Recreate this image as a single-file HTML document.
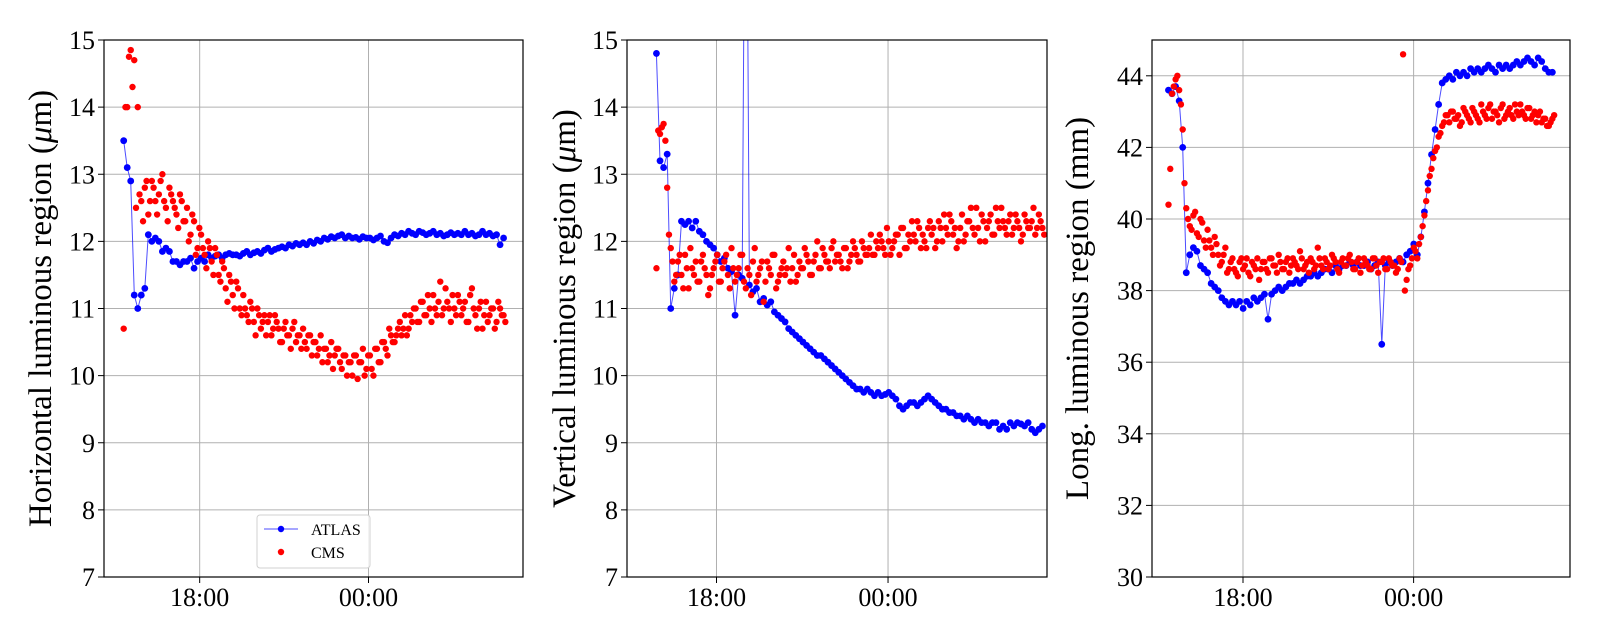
<!DOCTYPE html>
<html><head><meta charset="utf-8"><style>
html,body{margin:0;padding:0;background:#fff}
svg{display:block;font-family:"Liberation Serif","DejaVu Serif",serif}
</style></head><body>
<svg id="chart" width="1600" height="640" viewBox="0 0 1600 640"></svg>
<script>
// ---- data (hours relative to 18:00, grid step 0.125 h) ----
const STEP = 0.125;
const startH = -2.7, startV = -2.1, startL = -2.62;
const xTickLabels = ["18:00", "00:00"];
const xTickHours = [0, 6];
const yTicksHV = [7, 8, 9, 10, 11, 12, 13, 14, 15];
const yTicksL = [30, 32, 34, 36, 38, 40, 42, 44];
const seriesNames = ["ATLAS", "CMS"];

const atlasH = [13.5,13.1,12.9, 11.2,11.0,11.2,11.3, 12.1,12.0,12.05,12.0,11.85,
11.9,11.85,11.7,11.7,11.65,11.7,11.7,11.75,11.6,11.7,
11.75,11.7,11.8,11.75,11.78,11.8,11.75,11.8,11.82,11.8,11.8,11.78,11.82,11.85,11.8,11.83,11.85,11.82,11.87,11.9,11.85,11.88,11.9,11.92,11.9,11.95,11.93,11.97,11.95,11.98,
11.95,12.0,11.97,12.02,12.0,12.05,12.03,12.07,12.05,12.08,12.1,12.05,12.08,12.05,12.06,12.03,12.07,12.05,
12.05,12.02,12.05,12.08,12.0,11.98,12.05,12.1,12.08,12.12,12.1,12.15,12.12,12.1,12.15,12.13,12.1,12.12,12.15,12.1,12.12,12.08,12.1,12.13,12.1,12.12,12.1,12.15,12.1,12.12,12.08,12.1,12.15,12.1,12.12,12.08,12.1,11.95,12.05];
const cmsH = [10.7,14.0,14.85,14.7,14.0,12.6,12.8,12.4,12.9,12.6,12.7,13.0,12.5,12.8,12.6,12.4,12.7,12.3,12.5,12.1,
12.3,11.9,12.1,11.8,12.0,11.7,11.9,11.5,11.7,11.3,11.5,11.2,11.4,11.0,11.2,10.9,11.1,10.8,11.0,10.7,
10.9,10.8,10.6,10.9,10.7,10.5,10.8,10.6,10.7,10.5,10.6,10.7,10.4,10.6,10.5,10.3,10.6,10.4,10.2,10.5,
10.3,10.4,10.1,10.3,10.2,10.0,10.3,10.2,10.4,10.1,10.3,10.0,10.4,10.2,10.5,10.3,10.6,10.5,10.7,10.6,
10.9,10.7,10.8,11.0,10.8,11.1,10.9,11.0,11.2,10.9,11.4,11.0,11.1,10.8,11.0,11.2,10.9,11.1,10.8,11.3,
10.9,11.0,10.7,11.1,10.9,11.0,10.8,11.0,10.9];
const cmsH2 = [14.0,14.75,14.3,12.5,12.7,12.3,12.9,12.6,12.8,12.4,12.9,12.6,12.3,12.7,12.5,12.2,12.6,12.3,12.0,12.4,
11.8,12.2,11.9,11.6,11.9,11.5,11.8,11.4,11.6,11.1,11.4,11.0,11.3,10.9,11.0,10.8,11.0,10.6,10.9,10.8,
10.6,10.9,10.7,10.8,10.5,10.7,10.6,10.4,10.8,10.6,10.4,10.5,10.6,10.3,10.5,10.4,10.2,10.4,10.3,10.1,
10.4,10.2,10.3,10.0,10.2,10.3,9.95,10.2,10.0,10.3,10.1,10.4,10.2,10.5,10.4,10.7,10.5,10.6,10.8,10.7,
10.6,10.9,11.0,10.8,11.1,10.9,11.2,10.8,11.0,11.1,10.9,11.3,11.0,11.2,10.9,11.1,11.0,10.8,11.2,11.0,
10.7,11.1,10.9,10.8,11.0,10.7,11.1,10.9,10.8];

const atlasV = [14.8,13.2,13.1,13.3,11.0,11.3,11.5,12.3,12.25,12.3,12.2,12.3,12.15,12.1,12.0,11.95,11.9,11.8,11.7,11.75,
11.6,11.55,10.9,11.5,11.45,20,11.35,11.25,11.3,11.1,11.15,11.05,11.1,10.95,10.9,10.85,10.8,10.7,10.65,10.6,
10.55,10.5,10.45,10.4,10.35,10.3,10.3,10.25,10.2,10.15,10.1,10.05,10.0,9.95,9.9,9.85,9.8,9.8,9.75,9.8,
9.75,9.7,9.75,9.7,9.72,9.75,9.7,9.65,9.55,9.5,9.55,9.6,9.6,9.55,9.6,9.65,9.7,9.65,9.6,9.55,
9.5,9.5,9.45,9.45,9.4,9.4,9.35,9.4,9.35,9.3,9.35,9.3,9.3,9.25,9.3,9.3,9.2,9.25,9.2,9.3,
9.25,9.3,9.28,9.25,9.3,9.2,9.15,9.2,9.25];
const cmsV = [11.6,13.6,13.75,12.8,11.9,11.4,11.7,11.5,11.8,11.3,11.6,11.7,11.4,11.8,11.5,11.3,11.6,11.8,11.4,11.7,
11.5,11.9,11.4,11.6,11.8,11.3,11.5,11.7,11.4,11.6,11.1,11.7,11.5,11.8,11.4,11.6,11.5,11.9,11.6,11.4,
11.7,11.6,11.8,11.5,11.7,12.0,11.6,11.8,11.7,11.9,11.7,11.8,11.6,11.9,11.7,12.0,11.8,11.7,11.9,11.8,
12.1,11.8,11.9,12.0,11.8,12.0,11.9,12.1,11.8,12.2,11.9,12.0,12.1,12.3,11.9,12.0,12.2,12.1,11.9,12.3,
12.0,12.2,12.4,12.1,11.9,12.2,12.0,12.3,12.5,12.1,12.2,12.4,12.0,12.3,12.1,12.5,12.2,12.3,12.1,12.4,
12.2,12.3,12.0,12.4,12.2,12.3,12.1,12.4,12.2];
const cmsV2 = [13.65,13.7,13.5,12.1,11.7,11.5,11.8,11.3,11.6,11.9,11.5,11.4,11.7,11.6,11.2,11.5,11.7,11.4,11.6,11.8,
11.3,11.6,11.5,11.8,11.4,11.6,11.2,11.9,11.5,11.7,11.4,11.6,11.8,11.3,11.5,11.7,11.6,11.4,11.8,11.5,
11.6,11.9,11.7,11.5,11.8,11.6,11.9,11.7,11.6,12.0,11.8,11.7,11.9,11.6,11.8,11.9,11.7,12.0,11.8,11.9,
11.8,12.0,12.1,11.9,12.2,11.8,12.0,12.1,12.2,11.9,12.1,12.3,12.0,12.2,12.1,11.9,12.3,12.2,12.0,12.2,
12.4,12.1,12.3,12.2,12.0,12.4,12.1,12.3,12.2,12.5,12.0,12.3,12.2,12.4,12.1,12.3,12.5,12.2,12.3,12.1,
12.4,12.2,12.1,12.3,12.2,12.5,12.2,12.3,12.1];

const atlasL = [43.6,43.5,43.7,43.3,42.0,38.5,39.0,39.2,39.1,38.7,38.6,38.5,38.2,38.1,38.0,37.8,37.7,37.6,37.7,37.6,
37.7,37.5,37.7,37.6,37.8,37.7,37.8,37.9,37.2,37.9,38.0,38.1,38.0,38.1,38.2,38.2,38.3,38.2,38.3,38.4,
38.4,38.5,38.4,38.5,38.6,38.6,38.5,38.7,38.6,38.7,38.7,38.8,38.7,38.8,38.7,38.7,38.8,38.6,38.7,38.8,
36.5,38.7,38.8,38.7,38.8,38.9,38.8,39.0,39.1,39.3,39.0,39.5,40.2,41.0,41.8,42.5,43.2,43.8,43.9,44.0,
43.9,44.1,44.0,44.1,44.0,44.2,44.1,44.2,44.1,44.2,44.3,44.2,44.1,44.3,44.2,44.3,44.2,44.3,44.4,44.3,
44.4,44.5,44.4,44.3,44.5,44.4,44.2,44.1,44.1];
const cmsL = [40.4,43.5,43.9,43.6,42.5,40.3,39.8,40.1,39.6,40.0,39.4,39.7,39.2,39.5,39.0,38.8,39.2,38.6,38.9,38.5,
38.8,38.6,38.9,38.4,38.7,38.9,38.6,38.8,38.5,38.9,38.7,39.0,38.6,38.8,38.5,38.9,38.7,39.1,38.6,38.8,
38.9,38.6,39.2,38.7,38.9,38.6,39.0,38.8,38.5,38.9,38.7,39.0,38.6,38.8,38.5,38.9,38.7,38.6,38.9,38.5,
38.8,38.6,38.9,38.7,38.5,38.9,44.6,38.3,38.7,39.2,38.9,39.5,40.1,40.8,41.4,41.9,42.3,42.6,42.9,42.7,
43.0,42.8,42.6,43.1,42.9,42.7,43.0,42.8,43.2,42.9,43.1,42.8,43.0,42.7,43.2,42.9,43.1,42.8,43.0,43.2,
42.9,43.1,42.8,43.0,42.9,42.7,42.8,42.6,42.8];
const cmsL2 = [41.4,43.7,44.0,43.2,41.0,40.0,39.7,40.2,39.5,39.9,39.2,39.4,39.0,39.3,38.7,39.0,38.5,38.8,38.6,38.4,
38.9,38.7,38.5,38.8,38.6,38.3,38.8,38.6,38.9,38.7,38.5,38.8,38.6,38.9,38.7,38.8,38.6,38.9,38.7,38.5,
38.8,38.7,38.9,38.6,38.8,38.7,38.9,38.6,38.8,38.7,38.9,38.8,38.6,38.9,38.7,38.8,38.6,38.9,38.7,38.8,
38.9,38.6,38.8,38.7,38.6,38.8,38.0,38.6,38.9,39.1,39.3,39.8,40.5,41.2,41.7,42.0,42.4,42.7,42.9,43.0,
42.8,42.9,42.7,43.0,42.8,43.1,42.9,42.7,43.0,42.8,43.2,43.0,42.9,43.1,42.8,43.0,42.9,43.2,42.9,43.0,
42.8,43.1,42.9,42.7,43.0,42.8,42.6,42.7,42.9];

// ---- rendering ----
const NS = "http://www.w3.org/2000/svg";
const svg = document.getElementById("chart");
function mk(tag, attrs, parent) {
  const e = document.createElementNS(NS, tag);
  for (const k in attrs) e.setAttribute(k, attrs[k]);
  (parent || svg).appendChild(e);
  return e;
}
const TOP = 40, BOT = 577;

function panel(cfg) {
  const g = mk("g", {});
  
  
  const xs = h => cfg.x0 + (h - cfg.hmin) / (cfg.hmax - cfg.hmin) * (cfg.x1 - cfg.x0);
  const ys = v => BOT - (v - cfg.vmin) / (cfg.vmax - cfg.vmin) * (BOT - TOP);
  const clipId = "clip-" + cfg.name;
  const cp = mk("clipPath", { id: clipId }, g);
  mk("rect", { x: cfg.x0, y: TOP, width: cfg.x1 - cfg.x0, height: BOT - TOP }, cp);
  cfg.yticks.forEach(v => {
    const l = mk("line", { x1: cfg.x0, x2: cfg.x1, y1: ys(v), y2: ys(v), stroke: "#b0b0b0", "stroke-width": 1 }, g);
    
    
  });
  xTickHours.forEach(h => {
    const l = mk("line", { x1: xs(h), x2: xs(h), y1: TOP, y2: BOT, stroke: "#b0b0b0", "stroke-width": 1 }, g);
    
    
  });
  const dg = mk("g", { "clip-path": "url(#" + clipId + ")" }, g);
  const pts = cfg.atlas.map((v, i) => [xs(cfg.start + i * STEP), ys(v)]);
  const line = mk("polyline", { points: pts.map(p => p[0].toFixed(1) + "," + p[1].toFixed(1)).join(" "), fill: "none", stroke: "#0000ff", "stroke-width": 1, "stroke-opacity": 0.7 }, dg);
  
  
  pts.forEach(p => {
    const c = mk("circle", { cx: p[0], cy: p[1], r: 3.4, fill: "#0000ff" }, dg);
    
    
  });
  cfg.cms.forEach((v, i) => {
    const c = mk("circle", { cx: xs(cfg.start + i * STEP), cy: ys(v), r: 3.2, fill: "#ff0000" }, dg);
    
    
  });
  cfg.cms2.forEach((v, i) => {
    const c = mk("circle", { cx: xs(cfg.start + STEP / 2 + i * STEP), cy: ys(v), r: 3.2, fill: "#ff0000" }, dg);
    
    
  });
  const fr = mk("rect", { x: cfg.x0, y: TOP, width: cfg.x1 - cfg.x0, height: BOT - TOP, fill: "none", stroke: "#000", "stroke-width": 1.2 }, g);
  
  
  cfg.yticks.forEach(v => {
    mk("line", { x1: cfg.x0 - 6, x2: cfg.x0, y1: ys(v), y2: ys(v), stroke: "#000", "stroke-width": 1 }, g);
    const t = mk("text", { x: cfg.x0 - 9, y: ys(v) + 9, "text-anchor": "end", "font-size": 26, fill: "#000" }, g);
    t.textContent = v;
    
    
  });
  xTickHours.forEach((h, i) => {
    mk("line", { x1: xs(h), x2: xs(h), y1: BOT, y2: BOT + 6, stroke: "#000", "stroke-width": 1 }, g);
    const t = mk("text", { x: xs(h), y: BOT + 29, "text-anchor": "middle", "font-size": 26, fill: "#000" }, g);
    t.textContent = xTickLabels[i];
    
    
  });
  const tt = mk("text", { x: 0, y: 0, transform: "translate(" + cfg.labelX + "," + ((TOP + BOT) / 2) + ") rotate(-90)", "text-anchor": "middle", "font-size": 33, fill: "#000" }, g);
  
  
  tt.appendChild(document.createTextNode(cfg.label[0]));
  if (cfg.label.length > 1) {
    const it = mk("tspan", { "font-style": "italic" }, tt);
    it.textContent = cfg.label[1];
    tt.appendChild(document.createTextNode(cfg.label[2]));
  }
  return { xs, ys, g };
}

panel({ name: "horizontal-panel", x0: 104, x1: 523, hmin: -3.40, hmax: 11.49, vmin: 7, vmax: 15, yticks: yTicksHV,
  start: startH, atlas: atlasH, cms: cmsH, cms2: cmsH2, labelX: 51, label: ["Horizontal luminous region (", "μ", "m)"] });
panel({ name: "vertical-panel", x0: 627, x1: 1047, hmin: -3.13, hmax: 11.56, vmin: 7, vmax: 15, yticks: yTicksHV,
  start: startV, atlas: atlasV, cms: cmsV, cms2: cmsV2, labelX: 575, label: ["Vertical luminous region (", "μ", "m)"] });
panel({ name: "longitudinal-panel", x0: 1152, x1: 1570, hmin: -3.2, hmax: 11.5, vmin: 30, vmax: 45, yticks: yTicksL,
  start: startL, atlas: atlasL, cms: cmsL, cms2: cmsL2, labelX: 1088, label: ["Long. luminous region (mm)"] });

const lg = mk("g", {});


mk("rect", { x: 257, y: 515, width: 113, height: 53, rx: 3, fill: "#fff", "fill-opacity": 0.85, stroke: "#d0d0d0", "stroke-width": 1 }, lg);
const e1 = mk("g", {}, lg);


mk("line", { x1: 264, x2: 298, y1: 529, y2: 529, stroke: "#0000ff", "stroke-width": 1, "stroke-opacity": 0.7 }, e1);
mk("circle", { cx: 281, cy: 529, r: 3.2, fill: "#0000ff" }, e1);
const t1 = mk("text", { x: 311, y: 535, "font-size": 16, fill: "#000" }, e1);
t1.textContent = seriesNames[0];
const e2 = mk("g", {}, lg);


mk("circle", { cx: 281, cy: 552, r: 3.2, fill: "#ff0000" }, e2);
const t2 = mk("text", { x: 311, y: 558, "font-size": 16, fill: "#000" }, e2);
t2.textContent = seriesNames[1];
</script>
</body></html>
